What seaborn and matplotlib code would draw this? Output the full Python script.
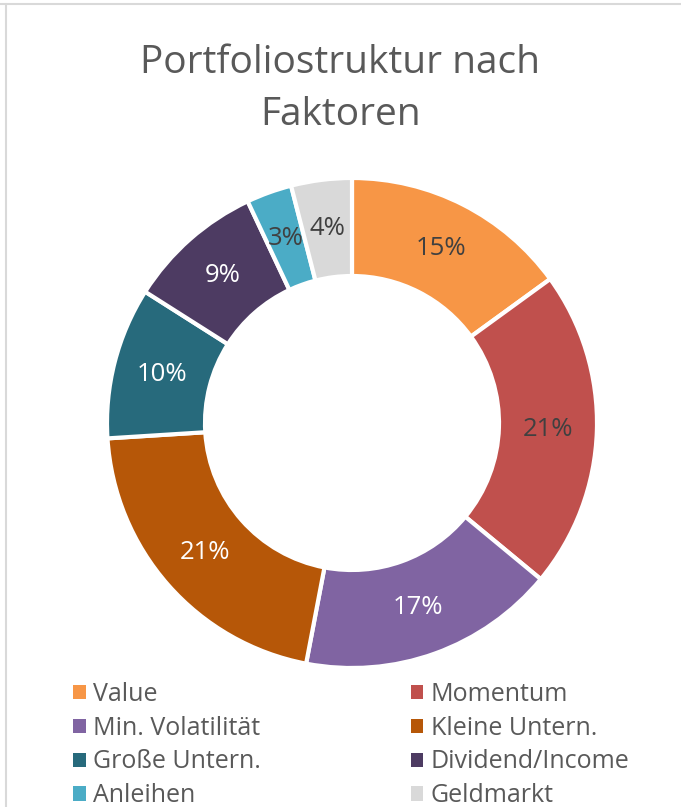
import matplotlib
matplotlib.use("Agg")
import matplotlib.pyplot as plt
from matplotlib.lines import Line2D
import seaborn as sns

# data
categories = ["Value", "Momentum", "Min. Volatilität", "Kleine Untern.",
              "Große Untern.", "Dividend/Income", "Anleihen", "Geldmarkt"]
shares = [15, 21, 17, 21, 10, 9, 3, 4]
hex_colors = ["#F79646", "#C0504D", "#8064A2", "#B65708",
              "#276A7C", "#4D3B62", "#4BACC6", "#D9D9D9"]
label_colors = ["#404040", "#404040", "white", "white",
                "white", "white", "#404040", "#404040"]
title = "Portfoliostruktur nach\nFaktoren"

sns.set_theme(style="white")
plt.rcParams["font.family"] = ["Open Sans", "DejaVu Sans"]

W, H = 681, 807
fig = plt.figure(figsize=(W / 100, H / 100), dpi=100)
fig.patch.set_facecolor("white")

# donut placement (pixels)
cx, cy, r = 352, 423, 245
ax = fig.add_axes([(cx - r) / W, (H - cy - r) / H, 2 * r / W, 2 * r / H])

palette = sns.color_palette(hex_colors)
wedges, _, autotexts = ax.pie(
    shares, colors=palette, startangle=90, counterclock=False,
    wedgeprops=dict(width=0.4, edgecolor="white", linewidth=3),
    autopct="%1.0f%%", pctdistance=0.8,
    textprops=dict(fontsize=18.5))
for t, c in zip(autotexts, label_colors):
    t.set_color(c)
ax.set_xlim(-1, 1)
ax.set_ylim(-1, 1)
ax.axis("off")
for w in wedges:
    w.set_clip_on(False)

fig.text(0.5, (H - 89) / H, title, ha="center", va="center",
         fontsize=28, color="#595959", linespacing=1.45)

order = [0, 2, 4, 6, 1, 3, 5, 7]
leg = fig.legend([wedges[i] for i in order], [categories[i] for i in order],
                 ncol=2, loc="upper left", bbox_to_anchor=(73 / W, (H - 682) / H),
                 frameon=False, fontsize=18, handlelength=0.5, handleheight=0.5,
                 handletextpad=0.3, columnspacing=6.0, labelspacing=0.35,
                 borderpad=0, borderaxespad=0)
for t in leg.get_texts():
    t.set_color("#595959")
for h in leg.legend_handles:
    h.set_linewidth(0)

# chart frame lines
fig.add_artist(Line2D([0, 1], [(H - 4) / H] * 2, color="#D9D9D9", lw=1.5))
fig.add_artist(Line2D([6 / W] * 2, [0, (H - 4) / H], color="#D9D9D9", lw=1.5))

fig.savefig("out.png", dpi=100, facecolor="white")
